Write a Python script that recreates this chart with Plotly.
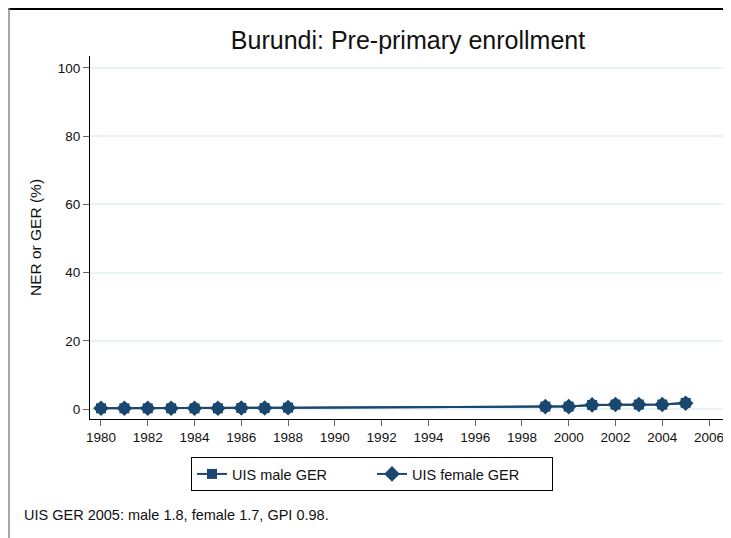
import plotly.graph_objects as go

years = [1980, 1981, 1982, 1983, 1984, 1985, 1986, 1987, 1988,
         1999, 2000, 2001, 2002, 2003, 2004, 2005]
male_ger = [0.2, 0.2, 0.2, 0.2, 0.2, 0.2, 0.3, 0.3, 0.4,
            0.7, 0.7, 1.2, 1.3, 1.3, 1.3, 1.8]
female_ger = [0.2, 0.2, 0.2, 0.2, 0.2, 0.2, 0.3, 0.3, 0.4,
              0.7, 0.7, 1.2, 1.3, 1.3, 1.3, 1.7]
x_ticks = list(range(1980, 2007, 2))
y_ticks = [0, 20, 40, 60, 80, 100]

navy = "#1a476f"
OFF = 8  # page body margin
W, H = 731 - OFF, 538 - OFF
# plot area in screen pixels
SL, SR, ST, SB = 90, 724, 56, 419
L, R, T, B = SL - OFF, W - (SR - OFF), ST - OFF, H - (SB - OFF)
pw, ph = W - L - R, H - T - B

def px(xs):
    return (xs - SL) / pw

def py(ys):
    return (SB - ys) / ph

fig = go.Figure()
fig.add_trace(go.Scatter(x=years, y=male_ger, mode="lines+markers", name="UIS male GER",
                         line=dict(color=navy, width=2),
                         marker=dict(symbol="square", size=10, color=navy)))
fig.add_trace(go.Scatter(x=years, y=female_ger, mode="lines+markers", name="UIS female GER",
                         line=dict(color=navy, width=2),
                         marker=dict(symbol="diamond", size=12, color=navy)))

font = "Liberation Sans, Arial, sans-serif"
fig.update_layout(
    width=W, height=H,
    margin=dict(l=L, r=R, t=T, b=B),
    paper_bgcolor="white", plot_bgcolor="white",
    font=dict(family=font, size=13.5, color="#111"),
    title=dict(text="Burundi: Pre-primary enrollment", xref="paper", x=px(408), xanchor="center",
               yref="container", y=1 - (40 - OFF) / H, yanchor="middle",
               font=dict(size=25, color="#111")),
    xaxis=dict(range=[1979.53, 2006.64], tickvals=x_ticks, showgrid=False,
               showline=True, linecolor="black", linewidth=1, mirror=False,
               ticks="outside", ticklen=6, tickcolor="#666", zeroline=False,
               tickfont=dict(size=13.5)),
    yaxis=dict(range=[-2.93, 103.5], tickvals=y_ticks, showgrid=True, gridcolor="#eaf2f3",
               gridwidth=1.5, showline=True, linecolor="black", linewidth=1,
               ticks="outside", ticklen=6, tickcolor="#666", zeroline=False,
               title=dict(text="NER or GER (%)", font=dict(size=15.5), standoff=12),
               tickfont=dict(size=13.5)),
    showlegend=True,
    legend=dict(orientation="h", x=px(372), xanchor="center", y=py(457), yanchor="top",
                bordercolor="black", borderwidth=1, font=dict(size=14.5),
                entrywidth=135, entrywidthmode="pixels", tracegroupgap=0),
    annotations=[dict(text="UIS GER 2005: male 1.8, female 1.7, GPI 0.98.",
                      xref="paper", yref="paper", x=px(22), y=py(515),
                      xanchor="left", yanchor="middle", showarrow=False,
                      font=dict(size=14.5, color="#111"))],
    shapes=[
        dict(type="line", xref="paper", yref="paper", x0=px(OFF), x1=px(731), y0=py(OFF + 1), y1=py(OFF + 1),
             line=dict(color="black", width=2)),
        dict(type="line", xref="paper", yref="paper", x0=px(OFF + 1), x1=px(OFF + 1), y0=py(OFF), y1=py(538),
             line=dict(color="#888", width=1.5)),
    ],
)

fig.write_html("out.html")
